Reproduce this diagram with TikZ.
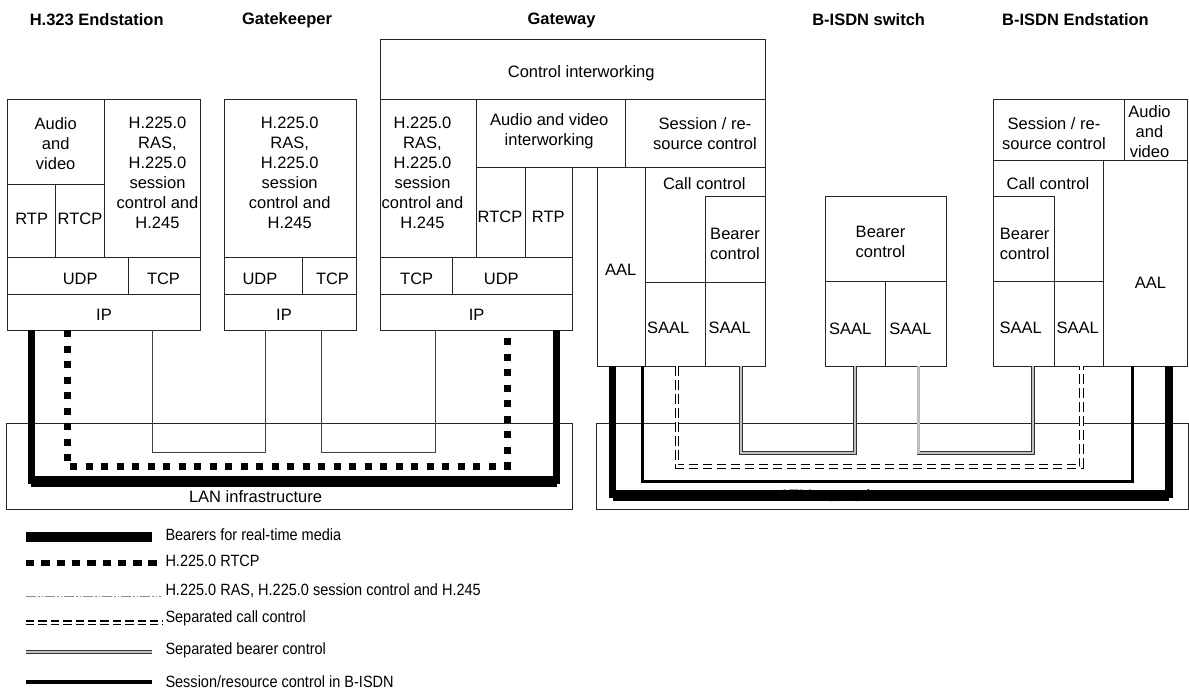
\documentclass[tikz,border=0pt]{standalone}
\usepackage{fontspec}
\setmainfont{Liberation Sans}
\newfontfamily\legfont[FakeStretch=0.89]{Liberation Sans}
\usetikzlibrary{fit}
\newcommand{\bbox}[5]{\node[boxst, fit={(#2,#3) (#4,#5)}] (#1) {};}
\begin{document}
\begin{tikzpicture}[x=1pt,y=-1pt,
 boxst/.style={draw=black!85, line width=1pt, inner sep=0pt, outer sep=0pt},
 txt/.style={font=\fontsize{16.5}{20}\selectfont, align=center, inner sep=0pt},
 ttl/.style={font=\fontsize{16.5}{20}\selectfont\bfseries, inner sep=0pt},
 leg/.style={font=\legfont\fontsize{16.3}{20}\selectfont, anchor=west, inner sep=0pt},
 bearer/.style={line width=7.7pt, line join=miter},
 rtcpline/.style={line width=7pt, dash pattern=on 7pt off 8.5pt},
 ras/.style={line width=0.8pt, draw=black!75},
 rasleg/.style={line width=1pt, draw=black!45, dash pattern=on 10pt off 2pt on 1.5pt off 2pt on 1.5pt off 2pt},
 sessline/.style={line width=3pt},
 callctl/.style={double=white, draw=black, line width=1.2pt, double distance=2.4pt, dash pattern=on 9.5pt off 4.5pt},
 bearctl/.style={double=black!25, draw=black!80, line width=0.8pt, double distance=2.2pt}]
\useasboundingbox (0,0) rectangle (1189,690);

% titles
\node[ttl] (t1) at (96.7,20) {H.323 Endstation};
\node[ttl] (t2) at (287,20) {Gatekeeper};
\node[ttl] (t3) at (561.5,20) {Gateway};
\node[ttl] (t4) at (868.7,20) {B-ISDN switch};
\node[ttl] (t5) at (1075.5,20) {B-ISDN Endstation};

% networks
\bbox{lan}{6.9}{423.7}{572.9}{509.3}
\bbox{atm}{596.9}{423.7}{1188.4}{509.3}
\node[txt] (lanT) at (255.5,496.7) {LAN infrastructure};
\node[txt] (atmT) at (827,495.5) {ATM network};

% H.323 endstation
\bbox{esAV}{7.3}{99.3}{104}{184.3}
\bbox{esRTP}{7.3}{184.3}{55.7}{257.7}
\bbox{esRTCP}{55.7}{184.3}{104}{257.7}
\bbox{esH}{104}{99.3}{200.7}{257.7}
\bbox{esUDP}{7.3}{257.7}{128}{294}
\bbox{esTCP}{128}{257.7}{200.7}{294}
\bbox{esIP}{7.3}{294}{200.7}{330}
\node[txt] (esAVt) at (55.7,143.3) {Audio\\and\\video};
\node[txt] (esRTPt) at (31.7,219) {RTP};
\node[txt] (esRTCPt) at (80,219) {RTCP};
\node[txt] (esHt) at (157.5,173.3) {H.225.0\\RAS,\\H.225.0\\session\\control and\\H.245};
\node[txt] (esUDPt) at (80.2,279) {UDP};
\node[txt] (esTCPt) at (163.5,279) {TCP};
\node[txt] (esIPt) at (104,315) {IP};

% gatekeeper
\bbox{gkH}{224}{99.3}{356.7}{257.7}
\bbox{gkUDP}{224}{257.7}{302}{294}
\bbox{gkTCP}{302}{257.7}{356.7}{294}
\bbox{gkIP}{224}{294}{356.7}{330}
\node[txt] (gkHt) at (289.7,173.3) {H.225.0\\RAS,\\H.225.0\\session\\control and\\H.245};
\node[txt] (gkUDPt) at (260,279) {UDP};
\node[txt] (gkTCPt) at (332.5,279) {TCP};
\node[txt] (gkIPt) at (284,315) {IP};

% gateway
\bbox{gwCI}{380}{40}{765.5}{100}
\bbox{gwH}{380}{100}{476.7}{257.7}
\bbox{gwAV}{476.7}{100}{625.7}{167.3}
\bbox{gwSR}{625.7}{100}{765.5}{167.3}
\bbox{gwRTCP}{476.7}{167.3}{525}{257.7}
\bbox{gwRTP}{525}{167.3}{572.7}{257.7}
\bbox{gwTCP}{380}{257.7}{452.7}{294}
\bbox{gwUDP}{452.7}{257.7}{572.7}{294}
\bbox{gwIP}{380}{294}{572.7}{330}
\bbox{gwAAL}{597}{167.3}{645.3}{366}
\bbox{gwCC}{645.3}{167.3}{765.5}{282}
\bbox{gwBC}{705.3}{196.7}{765.5}{282}
\bbox{gwSA}{645.3}{282}{705.3}{366}
\bbox{gwSB}{705.3}{282}{765.5}{366}
\node[txt] (gwCIt) at (581.2,73.3) {Control interworking};
\node[txt] (gwHt) at (422.5,173.3) {H.225.0\\RAS,\\H.225.0\\session\\control and\\H.245};
\node[txt] (gwAVt) at (549.2,131.7) {Audio and video\\interworking};
\node[txt] (gwSRt) at (705,134) {Session / re-\\source control};
\node[txt] (gwRTCPt) at (500,216.7) {RTCP};
\node[txt] (gwRTPt) at (548.3,216.7) {RTP};
\node[txt] (gwTCPt) at (416.7,279) {TCP};
\node[txt] (gwUDPt) at (501.3,279) {UDP};
\node[txt] (gwIPt) at (476.7,315) {IP};
\node[txt] (gwAALt) at (620.8,270) {AAL};
\node[txt] (gwCCt) at (704.3,183.3) {Call control};
\node[txt] (gwBCt) at (735,243.7) {Bearer\\control};
\node[txt] (gwSAt) at (668.3,328.3) {SAAL};
\node[txt] (gwSBt) at (729.7,328.3) {SAAL};

% B-ISDN switch
\bbox{swBC}{825.3}{196.7}{946}{281.7}
\bbox{swSA}{825.3}{281.7}{885.7}{366}
\bbox{swSB}{885.7}{281.7}{946}{366}
\node[txt] (swBCt) at (880.5,242.2) {Bearer\\control};
\node[txt] (swSAt) at (850.2,329.3) {SAAL};
\node[txt] (swSBt) at (910.5,329.3) {SAAL};

% B-ISDN endstation
\bbox{beSR}{993.3}{99.3}{1124}{160.7}
\bbox{beAV}{1124}{99.3}{1187}{160.7}
\bbox{beCC}{993.3}{160.7}{1103.3}{281.7}
\bbox{beBC}{993.3}{196.7}{1054}{281.7}
\bbox{beSA}{993.3}{281.7}{1054}{366}
\bbox{beSB}{1054}{281.7}{1103.3}{366}
\bbox{beAAL}{1103.3}{160.7}{1187}{366}
\node[txt] (beSRt) at (1054,134) {Session / re-\\source control};
\node[txt] (beAVt) at (1149.5,131.7) {Audio\\and\\video};
\node[txt] (beCCt) at (1048,183.3) {Call control};
\node[txt] (beBCt) at (1024.7,243.7) {Bearer\\control};
\node[txt] (beSAt) at (1020.8,328.3) {SAAL};
\node[txt] (beSBt) at (1077.8,328.3) {SAAL};
\node[txt] (beAALt) at (1150.5,282.7) {AAL};

% levels
\coordinate (lvB1) at (0,480);
\coordinate (lvB1b) at (0,483);
\coordinate (lvB2) at (0,494);
\coordinate (lvB2b) at (0,497);
\coordinate (lvR) at (0,466.3);
\coordinate (lvA) at (0,452.3);
\coordinate (lvS) at (0,481.3);
\coordinate (lvC) at (0,466.5);
\coordinate (lvE) at (0,453.3);

% end points on boxes
\coordinate (bL1) at ([xshift=24.1pt]esIP.south west);
\coordinate (bR1) at ([xshift=-16.2pt]gwIP.south east);
\coordinate (bL2) at ([xshift=15.6pt]gwAAL.south west);
\coordinate (bR2) at ([xshift=-18.2pt]beAAL.south east);
\coordinate (rL) at ([xshift=59.7pt]esIP.south west);
\coordinate (rR) at ([xshift=127pt]gwIP.south west);
\coordinate (a1) at ([xshift=144.7pt]esIP.south west);
\coordinate (a2) at ([xshift=41.6pt]gkIP.south west);
\coordinate (a3) at ([xshift=97.5pt]gkIP.south west);
\coordinate (a4) at ([xshift=55.5pt]gwIP.south west);
\coordinate (s1) at ([xshift=-3.3pt]gwAAL.south east);
\coordinate (s2) at ([xshift=28.7pt]beAAL.south west);
\coordinate (c1) at ([xshift=31.7pt]gwSA.south west);
\coordinate (c2) at ([xshift=27.5pt]beSB.south west);
\coordinate (e1) at ([xshift=35.7pt]gwSB.south west);
\coordinate (e2) at ([xshift=29.7pt]swSA.south west);
\coordinate (e3) at ([xshift=32.7pt]swSB.south west);
\coordinate (e4) at ([xshift=39.9pt]beSA.south west);

% LAN side connectors
\draw[ras] (a1) -- (a1 |- lvA) -- (a2 |- lvA) -- (a2);
\draw[ras] (a3) -- (a3 |- lvA) -- (a4 |- lvA) -- (a4);
\draw[rtcpline] (rL) -- (rL |- lvR) -- (rR |- lvR) -- (rR);
\draw[bearer] (bL1) -- (bL1 |- lvB1) -- (bR1 |- lvB1) -- (bR1);
\draw[line width=7.7pt] (bL1 |- lvB1b) -- (bR1 |- lvB1b);

% ATM side connectors
\draw[bearctl] (e1) -- (e1 |- lvE) -- (e2 |- lvE) -- (e2);
\draw[bearctl] (e3) -- (e3 |- lvE) -- (e4 |- lvE) -- (e4);
\draw[callctl] (c1) -- (c1 |- lvC) -- (c2 |- lvC) -- (c2);
\draw[sessline] (s1) -- (s1 |- lvS) -- (s2 |- lvS) -- (s2);
\draw[bearer] (bL2) -- (bL2 |- lvB2) -- (bR2 |- lvB2) -- (bR2);
\draw[line width=7.7pt] (bL2 |- lvB2b) -- (bR2 |- lvB2b);

% legend
\coordinate (l1a) at (26,536.7); \coordinate (l1b) at (152.3,536.7);
\coordinate (l2a) at (26,562.5); \coordinate (l2b) at (157,562.5);
\coordinate (l3a) at (26,596.7); \coordinate (l3b) at (160.7,596.7);
\coordinate (l4a) at (26,622.8); \coordinate (l4b) at (162.6,622.8);
\coordinate (l5a) at (26,651.7); \coordinate (l5b) at (152.3,651.7);
\coordinate (l6a) at (26,682); \coordinate (l6b) at (152.3,682);
\draw[line width=10pt] (l1a) -- (l1b);
\draw[line width=6pt, dash pattern=on 8.4pt off 6.9pt] (l2a) -- (l2b);
\draw[rasleg] (l3a) -- (l3b);
\draw[callctl, dash pattern=on 8.4pt off 4pt] (l4a) -- (l4b);
\draw[bearctl] (l5a) -- (l5b);
\draw[line width=4pt] (l6a) -- (l6b);
\node[leg] (g1) at (165.3,535) {Bearers for real-time media};
\node[leg] (g2) at (165.3,561) {H.225.0 RTCP};
\node[leg] (g3) at (165.3,590.7) {H.225.0 RAS, H.225.0 session control and H.245};
\node[leg] (g4) at (165.3,618.3) {Separated call control};
\node[leg] (g5) at (165.3,650.7) {Separated bearer control};
\node[leg] (g6) at (165.3,681.7) {Session/resource control in B-ISDN};
\end{tikzpicture}
\end{document}
